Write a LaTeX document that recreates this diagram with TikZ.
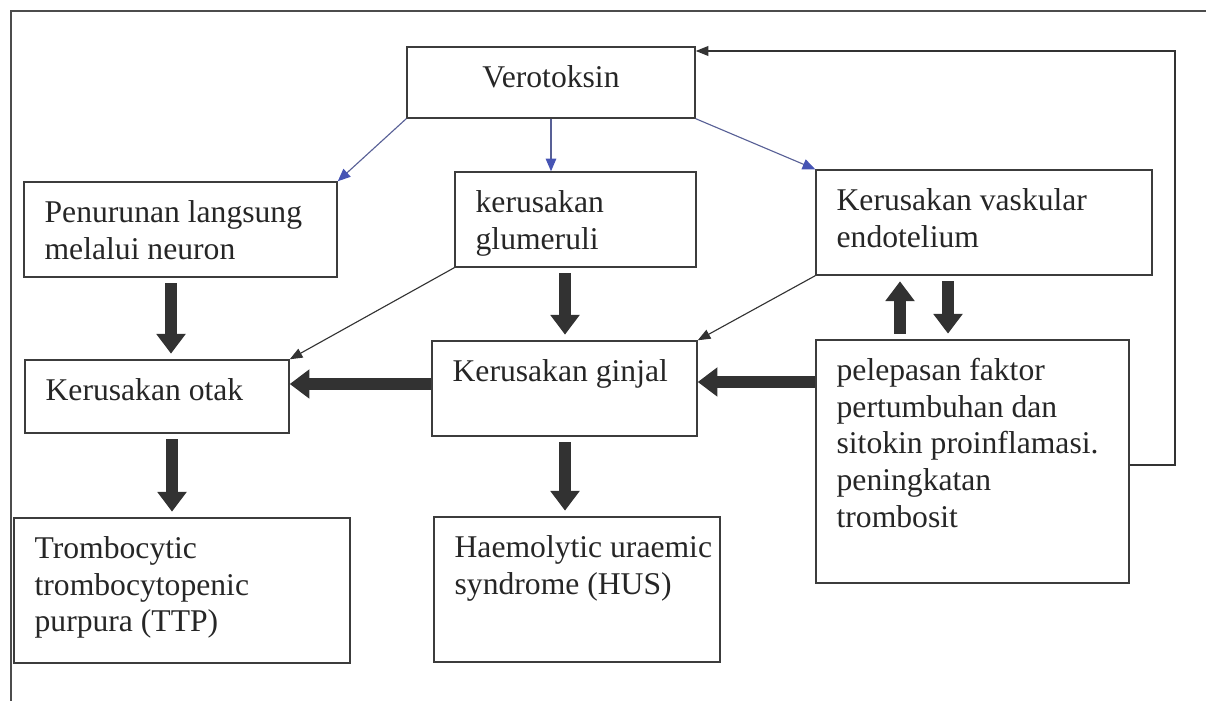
\documentclass[tikz,border=0pt]{standalone}
\usepackage{fontspec}
\setmainfont{Liberation Serif}
\usepackage{tikz}
\usetikzlibrary{positioning}
\usetikzlibrary{arrows.meta}
\usetikzlibrary{calc}

\definecolor{vtblue}{RGB}{70,84,180}
\definecolor{vtline}{RGB}{88,96,150}
\definecolor{boxgray}{RGB}{60,60,60}
\definecolor{fatgray}{RGB}{50,50,50}

\tikzset{
  box/.style={draw=boxgray, line width=1pt, inner sep=0pt},
  txt/.style={inner sep=0pt, align=left, text=black!85, font=\fontsize{22.5}{26}\selectfont},
  inbox/.style={txt, anchor=north west, xshift=15pt, yshift=-13.5pt},
  bluearrow/.style={draw=vtline, line width=0.8pt, -{Triangle[length=9pt, width=7.5pt, color=vtblue]}},
  thinarrow/.style={draw=black!80, line width=0.8pt, -{Triangle[length=9pt, width=7pt]}},
  fatarrow/.style={draw=fatgray, line width=9pt, -{Triangle[length=14pt, width=20pt]}},
  gap/.style={shorten <=4pt, shorten >=4pt}
}

\begin{document}
\begin{tikzpicture}[x=0.025cm, y=-0.025cm]
\useasboundingbox (0,0) rectangle (1206,701);

\draw[line width=1pt, black!70] (1206,11) -- (11,11) -- (11,701);

\node[box, minimum width=7.2cm, minimum height=1.775cm] (vero) at (551,82.5) {};
\node[box, minimum width=7.825cm, minimum height=2.375cm] (neuron) at (180.5,229.5) {};
\node[box, minimum width=6.025cm, minimum height=2.375cm] (glum) at (575.5,219.5) {};
\node[box, minimum width=8.4cm, minimum height=2.625cm] (vask) at (984,222.5) {};
\node[box, minimum width=6.6cm, minimum height=1.825cm] (otak) at (157,396.5) {};
\node[box, minimum width=6.625cm, minimum height=2.375cm] (ginjal) at (564.5,388.5) {};
\node[box, minimum width=7.825cm, minimum height=6.075cm] (faktor) at (972.5,461.5) {};
\node[box, minimum width=8.4cm, minimum height=3.625cm] (ttp) at (182,590.5) {};
\node[box, minimum width=7.15cm, minimum height=3.625cm] (hus) at (577,589.5) {};

\node[txt, anchor=north, yshift=-13.5pt] (verotxt) at (vero.north) {Verotoksin};
\node[inbox] (neurontxt) at (neuron.north west) {Penurunan langsung\\melalui neuron};
\node[inbox] (glumtxt) at (glum.north west) {kerusakan\\glumeruli};
\node[inbox] (vasktxt) at (vask.north west) {Kerusakan vaskular\\endotelium};
\node[inbox] (otaktxt) at (otak.north west) {Kerusakan otak};
\node[inbox] (ginjaltxt) at (ginjal.north west) {Kerusakan ginjal};
\node[inbox] (faktortxt) at (faktor.north west) {pelepasan faktor\\pertumbuhan dan\\sitokin proinflamasi.\\peningkatan\\trombosit};
\node[inbox] (ttptxt) at (ttp.north west) {Trombocytic\\trombocytopenic\\purpura (TTP)};
\node[inbox] (hustxt) at (hus.north west) {Haemolytic uraemic\\syndrome (HUS)};

\draw[bluearrow] (vero.south west) -- (neuron.north east);
\draw[bluearrow] (vero.south) -- (vero.south |- glum.north);
\draw[bluearrow] (vero.south east) -- (vask.north west);

\draw[thinarrow] (glum.south west) -- (otak.north east);
\draw[thinarrow] (vask.south west) -- (ginjal.north east);

\coordinate (fbtop) at (1175,51);
\draw[thinarrow] (faktor.east |- 0,465) -| (fbtop) -- (vero.east |- fbtop);

\draw[fatarrow, gap] (neuron.south -| 171,0) -- (otak.north -| 171,0);
\draw[fatarrow, gap] (otak.south -| 172,0) -- (ttp.north -| 172,0);
\draw[fatarrow, gap] (glum.south -| 565,0) -- (ginjal.north -| 565,0);
\draw[fatarrow, gap] (ginjal.south -| 565,0) -- (hus.north -| 565,0);
\draw[fatarrow, gap] (faktor.north -| 900,0) -- (vask.south -| 900,0);
\draw[fatarrow, gap] (vask.south -| 948,0) -- (faktor.north -| 948,0);

\draw[fatarrow] (ginjal.west |- 0,384) -- (otak.east |- 0,384);
\draw[fatarrow] (faktor.west |- 0,382) -- (ginjal.east |- 0,382);
\end{tikzpicture}
\end{document}
